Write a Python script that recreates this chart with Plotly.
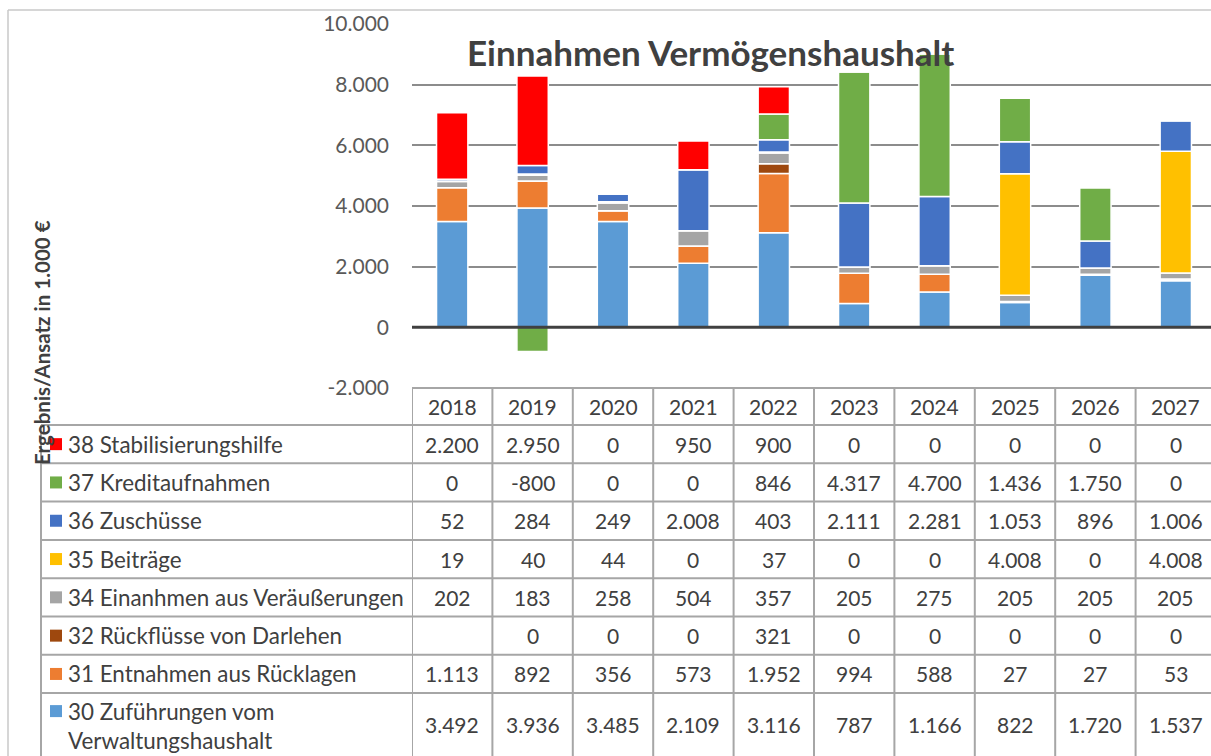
import plotly.graph_objects as go

# ---------------- data ----------------
years = ["2018", "2019", "2020", "2021", "2022", "2023", "2024", "2025", "2026", "2027"]

s30 = [3492, 3936, 3485, 2109, 3116, 787, 1166, 822, 1720, 1537]
s31 = [1113, 892, 356, 573, 1952, 994, 588, 27, 27, 53]
s32 = [None, 0, 0, 0, 321, 0, 0, 0, 0, 0]
s34 = [202, 183, 258, 504, 357, 205, 275, 205, 205, 205]
s35 = [19, 40, 44, 0, 37, 0, 0, 4008, 0, 4008]
s36 = [52, 284, 249, 2008, 403, 2111, 2281, 1053, 896, 1006]
s37 = [0, -800, 0, 0, 846, 4317, 4700, 1436, 1750, 0]
s38 = [2200, 2950, 0, 950, 900, 0, 0, 0, 0, 0]

names = {
    "30": "30 Zuführungen vom<br>Verwaltungshaushalt",
    "31": "31 Entnahmen aus Rücklagen",
    "32": "32 Rückflüsse von Darlehen",
    "34": "34 Einanhmen aus Veräußerungen",
    "35": "35 Beiträge",
    "36": "36 Zuschüsse",
    "37": "37 Kreditaufnahmen",
    "38": "38 Stabilisierungshilfe",
}
colors = {
    "30": "#5B9BD5", "31": "#ED7D31", "32": "#9E480E", "34": "#A5A5A5",
    "35": "#FFC000", "36": "#4472C4", "37": "#70AD47", "38": "#FF0000",
}
stack_order = [("30", s30), ("31", s31), ("32", s32), ("34", s34),
               ("35", s35), ("36", s36), ("37", s37), ("38", s38)]
table_order = ["38", "37", "36", "35", "34", "32", "31", "30"]
series = dict(stack_order)

tick_vals = [-2000, 0, 2000, 4000, 6000, 8000, 10000]
tick_text = ["-2.000", "0", "2.000", "4.000", "6.000", "8.000", "10.000"]

title_text = "Einnahmen Vermögenshaushalt"
ytitle_text = "Ergebnis/Ansatz in 1.000 €"

# ---------------- layout geometry (pixels) ----------------
W, H = 1211, 756
PL, PT, PB = 412, 24, 388          # plot area left, top, bottom
PW, PH = W - PL, PB - PT
COLW = 80.4
FONT = "Lato, 'Open Sans', sans-serif"
TXT = "#404040"
LINE = "#A6A6A6"


def px(x):
    return (x - PL) / PW


def py(y):
    return (PB - y) / PH


def de(v):
    if v is None:
        return ""
    return f"{v:,}".replace(",", ".")


fig = go.Figure()
for key, vals in stack_order:
    fig.add_trace(go.Bar(
        x=years, y=vals, name=names[key],
        marker=dict(color=colors[key], line=dict(color="white", width=1.5)),
        hoverinfo="skip",
    ))

ncat = PW / COLW
fig.update_layout(
    width=W, height=H,
    margin=dict(l=PL, r=0, t=PT, b=H - PB, autoexpand=False),
    barmode="relative", bargap=0.61,
    showlegend=False,
    paper_bgcolor="white", plot_bgcolor="white",
    font=dict(family=FONT, color=TXT),
    xaxis=dict(type="category", range=[-0.5, ncat - 0.5], showticklabels=False,
               showgrid=False, zeroline=False, showline=False, ticks="", fixedrange=True),
    yaxis=dict(range=[-2000, 10000], tickvals=tick_vals, ticktext=tick_text,
               tickfont=dict(family=FONT, size=21, color="#595959"),
               showgrid=True, gridcolor="#8C8C8C", gridwidth=2,
               zeroline=False, showline=False, ticks="", ticklabelstandoff=22,
               fixedrange=True),
)

shapes = []
# zero axis line drawn over bars
shapes.append(dict(type="line", xref="paper", yref="y", x0=0, x1=1, y0=0, y1=0,
                   line=dict(color="#404040", width=3), layer="above"))
# outer chart frame (cropped)
shapes.append(dict(type="line", xref="paper", yref="paper", x0=px(8), x1=px(8),
                   y0=py(10), y1=py(H + 5), line=dict(color="#C8C8C8", width=1.5)))
shapes.append(dict(type="line", xref="paper", yref="paper", x0=px(8), x1=px(W + 5),
                   y0=py(10), y1=py(10), line=dict(color="#C8C8C8", width=1.5)))

# table geometry
header_top = PB
header_h = 37
row_h = 38.3
row_tops = [header_top + header_h + i * row_h for i in range(len(table_order))]
last_bottom = row_tops[-1] + 70

# horizontal lines
shapes.append(dict(type="line", xref="paper", yref="paper", x0=px(PL), x1=px(W + 5),
                   y0=py(header_top), y1=py(header_top), line=dict(color=LINE, width=2)))
for t in row_tops:
    shapes.append(dict(type="line", xref="paper", yref="paper", x0=px(41), x1=px(W + 5),
                       y0=py(t), y1=py(t), line=dict(color=LINE, width=2)))
# vertical lines
shapes.append(dict(type="line", xref="paper", yref="paper", x0=px(41), x1=px(41),
                   y0=py(row_tops[0]), y1=py(last_bottom), line=dict(color=LINE, width=2)))
for k in range(len(years)):
    shapes.append(dict(type="line", xref="x", yref="paper", x0=k - 0.5, x1=k - 0.5,
                       y0=py(header_top), y1=py(last_bottom), line=dict(color=LINE, width=2)))

annotations = []
# header years
for k, yr in enumerate(years):
    annotations.append(dict(x=k, xref="x", y=py(header_top + header_h / 2), yref="paper",
                            text=yr, showarrow=False, xanchor="center", yanchor="middle",
                            font=dict(family=FONT, size=21, color=TXT)))
for i, key in enumerate(table_order):
    top = row_tops[i]
    last = i == len(table_order) - 1
    cy = top + row_h / 2 if not last else top + 31
    first_line_y = cy if not last else top + 18
    # swatch
    shapes.append(dict(type="rect", xref="paper", yref="paper",
                       x0=px(50), x1=px(62), y0=py(first_line_y - 6), y1=py(first_line_y + 6),
                       fillcolor=colors[key], line=dict(width=0)))
    if last:
        annotations.append(dict(x=px(66), xref="paper", y=py(top + 3), yref="paper",
                                text=names[key], showarrow=False, xanchor="left", yanchor="top",
                                align="left", font=dict(family=FONT, size=22.4, color=TXT)))
    else:
        annotations.append(dict(x=px(66), xref="paper", y=py(cy), yref="paper",
                                text=names[key], showarrow=False, xanchor="left", yanchor="middle",
                                align="left", font=dict(family=FONT, size=22.4, color=TXT)))
    for k, v in enumerate(series[key]):
        annotations.append(dict(x=k, xref="x", y=py(cy), yref="paper",
                                text=de(v), showarrow=False, xanchor="center", yanchor="middle",
                                font=dict(family=FONT, size=21, color=TXT)))

# title
annotations.append(dict(x=px(710), xref="paper", y=py(52), yref="paper", text="<b>" + title_text + "</b>",
                        showarrow=False, xanchor="center", yanchor="middle",
                        font=dict(family=FONT, size=35, color=TXT)))
# y axis title
annotations.append(dict(x=px(42), xref="paper", y=py(343), yref="paper", text="<b>" + ytitle_text + "</b>",
                        showarrow=False, xanchor="center", yanchor="middle", textangle=-90,
                        font=dict(family=FONT, size=20.5, color=TXT)))

fig.update_layout(shapes=shapes, annotations=annotations)
fig.write_html("out.html", config={"displayModeBar": False},
               post_script="document.body.style.margin='0';document.body.style.overflow='hidden';")
